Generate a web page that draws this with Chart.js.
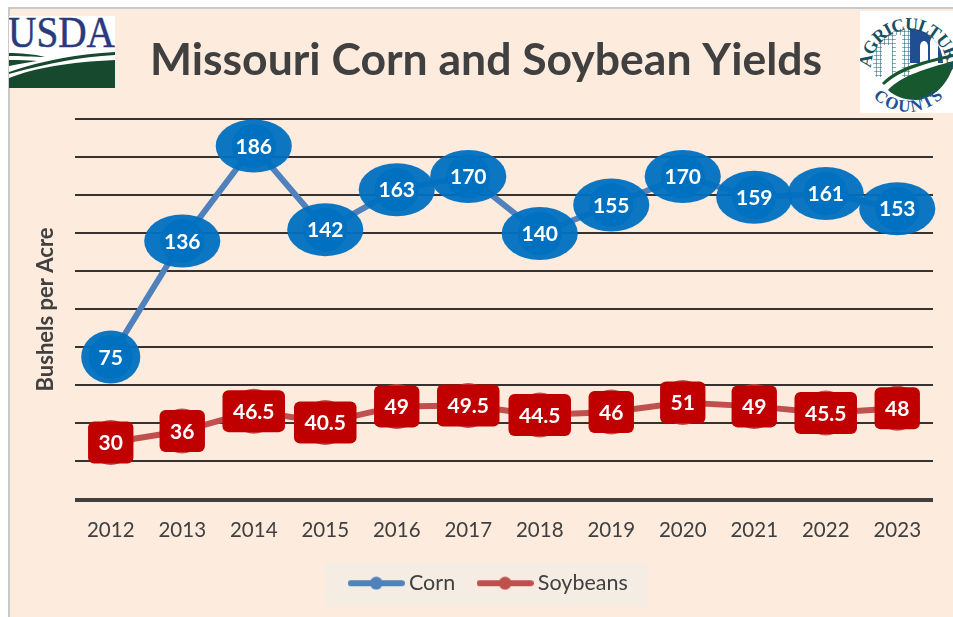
<!DOCTYPE html>
<html>
<head>
    <title>Missouri Corn and Soybean Yields</title>
    <script src="https://cdn.jsdelivr.net/npm/chart.js"></script>
    <style>
        html, body { margin: 0; padding: 0; background: #fff; overflow: hidden; width: 953px; height: 617px; }
        #panel { position: absolute; left: 8px; top: 7px; width: 945px; height: 610px; background: #fdebdd;
                 border-left: 2px solid #c9c9c9; border-top: 2px solid #c9c9c9; overflow: hidden; box-sizing: border-box; }
        #myChart { position: absolute; left: -1px; top: 0; }
        svg { position: absolute; display: block; }
    </style>
</head>
<body>
    <div id="panel"><canvas id="myChart" width="954" height="608"></canvas></div>

    <!-- USDA logo -->
    <svg style="left:9px;top:16px" width="106" height="72" viewBox="0 0 106 72">
        <rect width="106" height="72" fill="#fff"/>
        <text x="-1" y="31" font-family="Liberation Serif" font-size="45" fill="#2a3a7c" stroke="#2a3a7c" stroke-width="0.5" textLength="107" lengthAdjust="spacingAndGlyphs">USDA</text>
        <path d="M0 62 C25 52 60 46 106 44 L106 72 L0 72 Z" fill="#17492f"/>
        <path d="M0 56 C35 44 70 38 106 36 L106 39 C70 41 40 47 0 58 Z" fill="#17492f"/>
        <path d="M0 37 C10 37 25 38 36 41 C25 41 10 40 0 40 Z" fill="#17492f"/>
        <path d="M0 44 C10 44 20 44 28 45 C18 47 8 48 0 50 Z" fill="#17492f"/>
    </svg>

    <!-- Agriculture Counts logo -->
    <svg style="left:860px;top:11px" width="93" height="102" viewBox="0 0 93 102">
        <defs>
            <pattern id="mesh" width="4" height="4" patternUnits="userSpaceOnUse">
                <path d="M0 0H4M0 0V4" stroke="#1b5f78" stroke-width="1.1" fill="none"/>
            </pattern>
            <clipPath id="disc"><circle cx="48" cy="52" r="35"/></clipPath>
            <path id="arcTop" d="M11 57 A37 37 0 0 1 87 57"/>
            <path id="arcBottom" d="M8 80 A49 49 0 0 0 88 80"/>
        </defs>
        <rect width="93" height="102" fill="#fff"/>
        <g clip-path="url(#disc)">
            <rect x="12" y="14" width="38" height="52" fill="url(#mesh)"/>
            <rect x="22" y="34" width="10" height="40" fill="#fff"/>
            <rect x="36" y="24" width="6" height="48" fill="#fff"/>
            <rect x="50" y="14" width="38" height="38" fill="#1f4f92"/>
            <path d="M60 56 V36 C60 28 68 28 68 36 V56 Z" fill="#fff"/>
            <path d="M70 56 V32 C70 24 78 24 78 32 V56 Z" fill="#fff"/>
        </g>
        <path d="M22 72 C40 54 65 50 93 43 L93 46 C65 53 42 58 24 74 Z" fill="#17582f"/>
        <path d="M28 79 C42 64 66 58 93 50 L93 56 C86 76 72 88 56 89 C44 89 34 85 28 79 Z" fill="#17582f"/>
        <text font-family="Liberation Serif" font-size="18" font-weight="bold" fill="#17505f">
            <textPath href="#arcTop" textLength="124">AGRICULTURE</textPath>
        </text>
        <text font-family="Liberation Serif" font-size="17" font-weight="bold" fill="#1f4f92">
            <textPath href="#arcBottom" startOffset="8" textLength="78">COUNTS</textPath>
        </text>
    </svg>

    <script>
        const years = ['2012', '2013', '2014', '2015', '2016', '2017', '2018', '2019', '2020', '2021', '2022', '2023'];
        const corn = [75, 136, 186, 142, 163, 170, 140, 155, 170, 159, 161, 153];
        const soybeans = [30, 36, 46.5, 40.5, 49, 49.5, 44.5, 46, 51, 49, 45.5, 48];

        const FONT = 'Lato, Carlito, sans-serif';
        const GREY = '#404040';

        // line + dot swatch for the legend
        function swatch(color) {
            const c = document.createElement('canvas');
            c.width = 57; c.height = 14;
            const g = c.getContext('2d');
            g.strokeStyle = color; g.fillStyle = color;
            g.lineWidth = 6; g.lineCap = 'round';
            g.beginPath(); g.moveTo(3, 7); g.lineTo(54, 7); g.stroke();
            g.beginPath(); g.arc(28.5, 7, 6.5, 0, Math.PI * 2); g.fill();
            return c;
        }

        function roundRect(g, x, y, w, h, r) {
            g.beginPath();
            g.roundRect(x, y, w, h, r);
            g.fill();
        }

        // bubble labels on each point, plus the pale legend panel
        const yieldLabels = {
            id: 'yieldLabels',
            beforeDraw(chart) {
                const g = chart.ctx;
                const lg = chart.legend;
                const hit = lg.legendHitBoxes;
                const l = hit[0].left - 24, r = hit[hit.length - 1].left + hit[hit.length - 1].width + 25;
                const mid = hit[0].top + hit[0].height / 2 + 1;
                g.save();
                g.fillStyle = '#f5ece4';
                g.fillRect(l, mid - 22, r - l, 44);
                g.restore();
                // legend sits a little right of centre in the original
                if (!lg._nudged) { lg.left += 5; lg.right += 5; lg._nudged = true; }
            },
            afterDatasetsDraw(chart) {
                const g = chart.ctx;
                g.save();
                g.font = 'bold 21px ' + FONT;
                g.textAlign = 'center';
                g.textBaseline = 'middle';
                chart.getDatasetMeta(0).data.forEach((pt, i) => {
                    const txt = String(corn[i]);
                    const w = g.measureText(txt).width;
                    g.fillStyle = 'rgba(0,112,192,0.95)';
                    g.beginPath();
                    g.ellipse(pt.x, pt.y, w * 0.7 + 12.5, 26.5, 0, 0, Math.PI * 2);
                    g.fill();
                    g.fillStyle = '#fff';
                    g.fillText(txt, pt.x, pt.y + 1);
                });
                chart.getDatasetMeta(1).data.forEach((pt, i) => {
                    const txt = String(soybeans[i]);
                    const w = g.measureText(txt).width + 21;
                    g.fillStyle = '#c00000';
                    roundRect(g, pt.x - w / 2, pt.y - 21, w, 42, 6);
                    g.fillStyle = '#fff';
                    g.fillText(txt, pt.x, pt.y + 1);
                });
                g.restore();
            }
        };

        new Chart(document.getElementById('myChart'), {
            type: 'line',
            data: {
                labels: years,
                datasets: [{
                    label: 'Corn',
                    data: corn,
                    borderColor: '#4f81bd',
                    borderWidth: 6,
                    pointRadius: 22,
                    pointHoverRadius: 22,
                    pointBackgroundColor: '#0070c0',
                    pointBorderWidth: 0,
                    tension: 0
                }, {
                    label: 'Soybeans',
                    data: soybeans,
                    borderColor: '#c0504d',
                    borderWidth: 6,
                    pointRadius: 22.5,
                    pointHoverRadius: 22.5,
                    pointBackgroundColor: '#c0504d',
                    pointBorderWidth: 0,
                    tension: 0
                }]
            },
            options: {
                responsive: false,
                animation: false,
                layout: { padding: { left: 30, right: 30, top: 0, bottom: 13 } },
                scales: {
                    x: {
                        offset: true,
                        grid: { display: false },
                        border: { display: false },
                        ticks: { color: GREY, font: { family: FONT, size: 20.5 }, padding: 11, maxRotation: 0 },
                        afterFit(s) { s.height = 45; }
                    },
                    y: {
                        min: 0,
                        max: 200,
                        border: { display: false },
                        grid: {
                            drawTicks: false,
                            color: ctx => ctx.tick.value === 0 ? '#404040' : '#37322f',
                            lineWidth: ctx => ctx.tick.value === 0 ? 4 : 2
                        },
                        ticks: { display: false, stepSize: 20 },
                        title: {
                            display: true,
                            text: 'Bushels per Acre',
                            color: GREY,
                            font: { family: FONT, size: 22, weight: 'bold' },
                            padding: { top: -6, bottom: 0 }
                        },
                        afterFit(s) { s.width = 36; }
                    }
                },
                plugins: {
                    title: {
                        display: true,
                        text: 'Missouri Corn and Soybean Yields',
                        color: GREY,
                        font: { family: FONT, size: 44.5, weight: 'bold' },
                        padding: { top: 25, bottom: 32 }
                    },
                    legend: {
                        position: 'bottom',
                        labels: {
                            color: GREY,
                            font: { family: FONT, size: 21.5 },
                            usePointStyle: true,
                            pointStyleWidth: 44,
                            padding: 28,
                            generateLabels(chart) {
                                const items = Chart.defaults.plugins.legend.labels.generateLabels(chart);
                                items.forEach((it, i) => { it.pointStyle = swatch(chart.data.datasets[i].borderColor); });
                                return items;
                            }
                        }
                    },
                    tooltip: { enabled: false }
                }
            },
            plugins: [yieldLabels]
        });
    </script>
</body>
</html>
